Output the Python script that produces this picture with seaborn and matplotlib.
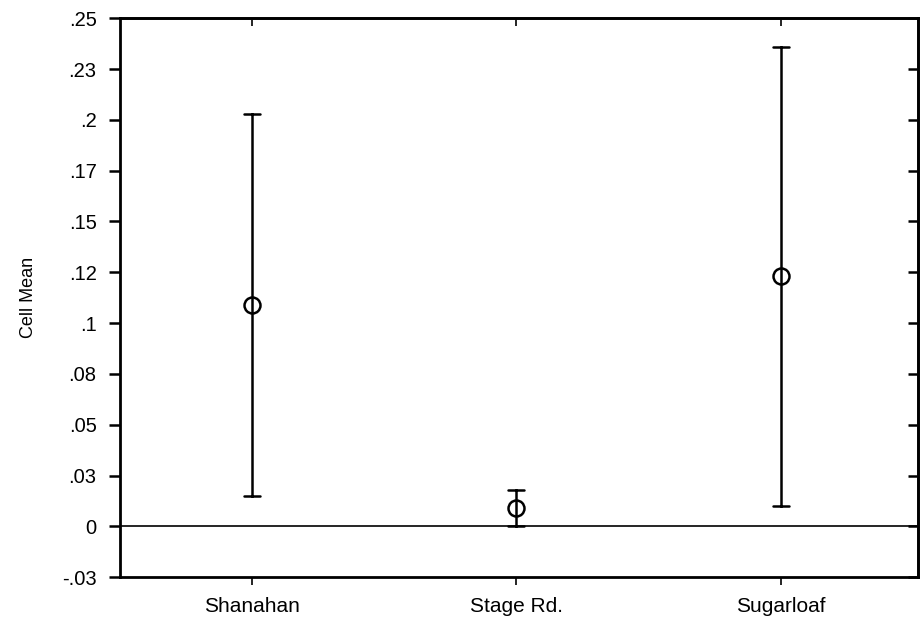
import numpy as np
import pandas as pd
import matplotlib
matplotlib.use('Agg')
import matplotlib.pyplot as plt
import seaborn as sns

# Values
sites = ['Shanahan', 'Stage Rd.', 'Sugarloaf']
cell_means = [0.109, 0.009, 0.123]
half_widths = [0.094, 0.009, 0.113]

y_ticks = [-0.025, 0, 0.025, 0.05, 0.075, 0.1, 0.125, 0.15, 0.175, 0.2, 0.225, 0.25]
y_tick_labels = ['-.03', '0', '.03', '.05', '.08', '.1', '.12', '.15', '.17', '.2', '.23', '.25']

sns.set_style('white')
plt.rcParams['font.family'] = ['Liberation Sans', 'DejaVu Sans']
plt.rcParams['text.color'] = 'black'
plt.rcParams['axes.labelcolor'] = 'black'
plt.rcParams['xtick.color'] = 'black'
plt.rcParams['ytick.color'] = 'black'

# long table: each site gets its lower and upper bound, mean is midpoint
rows = []
for s, m, h in zip(sites, cell_means, half_widths):
    rows.append({'Site': s, 'Cell Mean': m - h})
    rows.append({'Site': s, 'Cell Mean': m + h})
df = pd.DataFrame(rows)

fig = plt.figure(figsize=(9.24, 6.28), dpi=100)
ax = fig.add_axes([0.130, 0.081, 0.8635, 0.890])

ax.axhline(0, color='black', lw=1.2, zorder=1)

sns.pointplot(data=df, x='Site', y='Cell Mean', order=sites,
              estimator='mean', errorbar=lambda v: (v.min(), v.max()),
              color='black', linestyle='none', marker='o', markersize=11.5,
              markerfacecolor='white', markeredgecolor='black', markeredgewidth=1.8,
              capsize=0.06, err_kws={'linewidth': 1.8}, ax=ax)

ax.set_xlim(-0.5, 2.52)
ax.set_ylim(-0.025, 0.25)
ax.set_yticks(y_ticks)
ax.set_yticklabels(y_tick_labels, fontsize=14.5)
ax.set_xlabel('')
ax.set_ylabel('Cell Mean', fontsize=13, labelpad=18)
ax.tick_params(axis='x', bottom=True, labelsize=15, pad=8.4, length=6, width=1.2, direction='out')
ax.tick_params(axis='y', left=True, length=8, width=1.8, direction='out', pad=9)

for sp in ax.spines.values():
    sp.set_color('black')
    sp.set_linewidth(2.0)

# inward ticks on the right and top
right = ax.secondary_yaxis('right')
right.set_yticks(y_ticks)
right.set_yticklabels([])
right.tick_params(direction='in', length=7, width=1.8)
right.spines['right'].set_linewidth(2.0)

top = ax.secondary_xaxis('top')
top.set_xticks([0, 1, 2])
top.set_xticklabels([])
top.tick_params(direction='in', length=6, width=1.2)
top.spines['top'].set_linewidth(2.0)

fig.savefig('out.png', dpi=100)
